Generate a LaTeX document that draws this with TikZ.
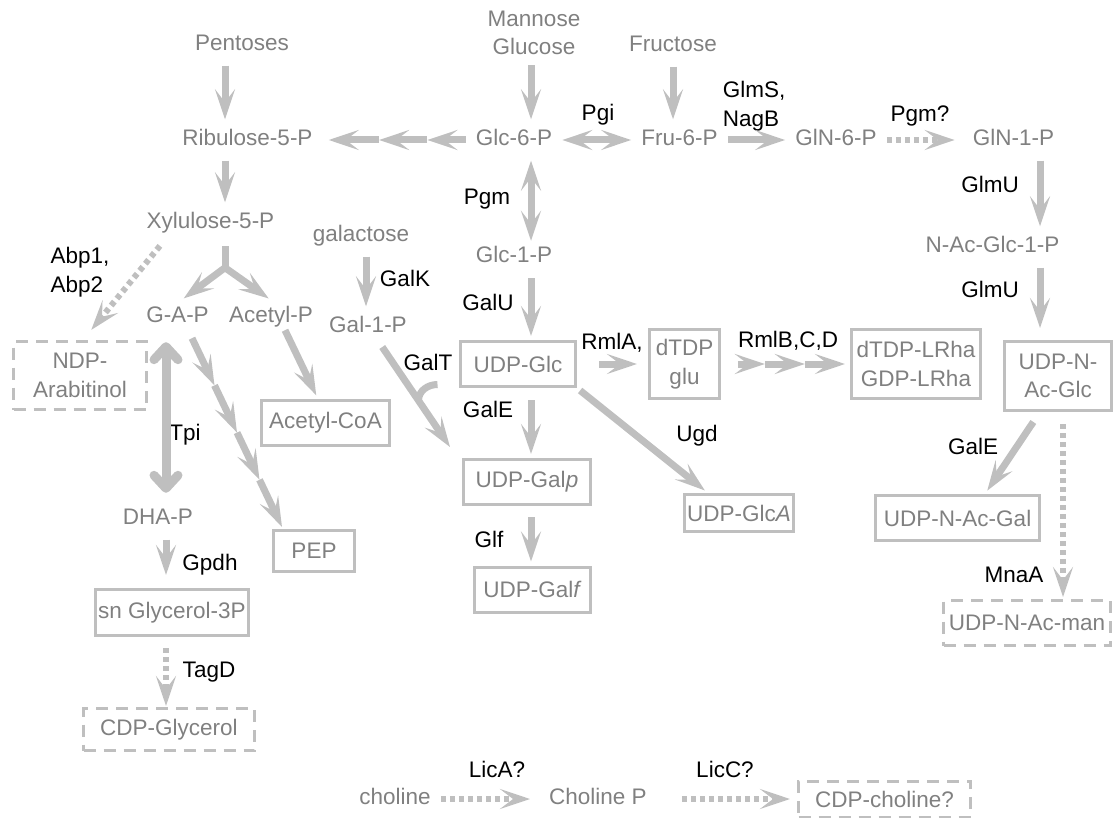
\documentclass[tikz,border=0pt]{standalone}
\usepackage{fontspec}
\setmainfont{Liberation Sans}
\usepackage{xcolor}
\definecolor{pwtext}{HTML}{808080}
\definecolor{pwline}{HTML}{BFBFBF}
\usetikzlibrary{arrows.meta, positioning}

\begin{document}
\begin{tikzpicture}[
  x=1pt, y=1pt,
  >={Stealth[length=30pt, width=20pt, inset=13pt]},
  every node/.style={font=\fontsize{22.5}{28.5}\selectfont},
  met/.style={text=pwtext, inner sep=6pt, text height=16pt, text depth=5pt},
  met2/.style={text=pwtext, inner sep=6pt, align=center},
  enz/.style={text=black, inner sep=0pt, text height=16pt, text depth=5pt},
  enz2/.style={text=black, inner sep=0pt, align=left},
  box/.style={draw=pwline, line width=3pt, text=pwtext, inner sep=2pt, align=center},
  dbox/.style={box, dash pattern=on 12pt off 8pt},
  ln/.style={color=pwline, line width=7pt},
  arr/.style={->, color=pwline, line width=7pt, shorten <=4pt, shorten >=4pt},
  seg/.style={arr, shorten <=0pt, shorten >=0pt},
  dot/.style={arr, line width=6pt, dash pattern=on 5pt off 4pt},
  tpiarr/.style={arr, line width=9pt,
    {Straight Barb[round, length=13pt, width=24pt]}-{Straight Barb[round, length=13pt, width=24pt]}}
]
  \useasboundingbox (0,0) rectangle (1116,-818);

  \node[met] (pent) at (242,-45) {Pentoses};
  \node[met2] (mangl) at (534,-33) {Mannose\\Glucose};
  \node[met] (fruc) at (673,-46) {Fructose};
  \node[met] (ribu) at (247.5,-140) {Ribulose-5-P};
  \node[met] (glc6) at (514,-140) {Glc-6-P};
  \node[met] (fru6) at (679.5,-140) {Fru-6-P};
  \node[met] (gln6) at (836,-140) {GlN-6-P};
  \node[met] (gln1) at (1013.5,-140) {GlN-1-P};
  \node[met] (xylu) at (210.5,-223) {Xylulose-5-P};
  \node[met] (gala) at (361,-236) {galactose};
  \node[met] (glc1) at (514,-257.5) {Glc-1-P};
  \node[met] (nacglc1) at (992.5,-247) {N-Ac-Glc-1-P};
  \node[met] (gap) at (177.5,-317.5) {G-A-P};
  \node[met] (acetp) at (271,-317.5) {Acetyl-P};
  \node[met] (gal1p) at (368,-327) {Gal-1-P};
  \node[met] (dhap) at (158,-519) {DHA-P};
  \node[met] (chol) at (395,-799) {choline};
  \node[met] (cholp) at (598,-799) {Choline P};

  \node[dbox, minimum width=133pt, minimum height=68pt] (ndp) at (80,-375.5) {NDP-\\Arabitinol};
  \node[box, minimum width=128pt, minimum height=45pt] (acoa) at (325.5,-423) {Acetyl-CoA};
  \node[box, minimum width=115pt, minimum height=45pt] (udpglc) at (518,-364) {UDP-Glc};
  \node[box, minimum width=70pt, minimum height=69pt] (dtdpglu) at (684.5,-364) {dTDP\\glu};
  \node[box, minimum width=129pt, minimum height=69pt] (lrha) at (916,-364) {dTDP-LRha\\GDP-LRha};
  \node[box, minimum width=107pt, minimum height=69pt] (udpnacglc) at (1058,-376) {UDP-N-\\Ac-Glc};
  \node[box, minimum width=127pt, minimum height=45pt] (udpgalp) at (527,-482) {UDP-Gal\textit{p}};
  \node[box, minimum width=109pt, minimum height=37pt] (udpglca) at (739,-513) {UDP-Glc\textit{A}};
  \node[box, minimum width=164pt, minimum height=45pt] (udpnacgal) at (957.5,-518) {UDP-N-Ac-Gal};
  \node[box, minimum width=81pt, minimum height=41pt] (pep) at (314,-551) {PEP};
  \node[box, minimum width=153pt, minimum height=46pt] (snglyc) at (172,-612.5) {sn Glycerol-3P};
  \node[box, minimum width=116pt, minimum height=45pt] (udpgalf) at (532.5,-589.5) {UDP-Gal\textit{f}};
  \node[dbox, minimum width=167pt, minimum height=45pt] (udpnacman) at (1027,-623) {UDP-N-Ac-man};
  \node[dbox, minimum width=171pt, minimum height=42pt] (cdpglyc) at (169,-729.5) {CDP-Glycerol};
  \node[dbox, minimum width=172pt, minimum height=36pt] (cdpchol) at (884.5,-799) {CDP-choline?};

  \node[enz] (pgi) at (598,-115) {Pgi};
  \node[enz2] (glms) at (754,-106) {GlmS,\\NagB};
  \node[enz] (pgmq) at (920,-116) {Pgm?};
  \node[enz] (glmu1) at (990,-187) {GlmU};
  \node[enz] (glmu2) at (990,-292) {GlmU};
  \node[enz] (pgm) at (487,-199) {Pgm};
  \node[enz2] (abp) at (80,-272) {Abp1,\\Abp2};
  \node[enz] (galk) at (405,-281) {GalK};
  \node[enz] (galu) at (488,-305) {GalU};
  \node[enz] (galt) at (428,-365) {GalT};
  \node[enz] (rmla) at (612,-344) {RmlA,};
  \node[enz] (rmlb) at (788,-342) {RmlB,C,D};
  \node[enz] (gale) at (488,-412) {GalE};
  \node[enz] (ugd) at (697,-436) {Ugd};
  \node[enz] (galenac) at (973,-449) {GalE};
  \node[enz] (tpi) at (185,-435) {Tpi};
  \node[enz] (gpdh) at (210,-565) {Gpdh};
  \node[enz] (glf) at (489,-542) {Glf};
  \node[enz] (tagd) at (209,-672) {TagD};
  \node[enz] (mnaa) at (1014,-577) {MnaA};
  \node[enz] (lica) at (497,-772) {LicA?};
  \node[enz] (licc) at (725,-772) {LicC?};

  \path (glc6.west) -- coordinate[pos=0.28] (rc1) coordinate[pos=0.6] (rc2) (ribu.east);
  \path (dtdpglu.east) -- coordinate[pos=0.13] (tc0) coordinate[pos=0.34] (tc1) coordinate[pos=0.65] (tc2) (lrha.west);
  \path ([xshift=14.5pt, yshift=-4pt]gap.south) -- coordinate[pos=0.25] (pc1) coordinate[pos=0.5] (pc2)
    coordinate[pos=0.75] (pc3) ([xshift=-32pt, yshift=2pt]pep.north);

  \draw[arr] ([xshift=-17pt]pent.south) -- ([xshift=-17pt]pent.south |- ribu.north);
  \draw[arr] ([xshift=-22.5pt]ribu.south) -- ([xshift=-22.5pt]ribu.south |- xylu.north);
  \draw[seg, shorten <=4pt] (glc6.west) -- (rc1);
  \draw[seg] (rc1) -- (rc2);
  \draw[seg, shorten >=10pt] (rc2) -- (ribu.east);
  \draw[arr, <->] (glc6.east) -- (fru6.west);
  \draw[arr] (fru6.east) -- (gln6.west);
  \draw[dot, shorten >=12pt] (gln6.east) -- (gln1.west);
  \draw[arr] ([xshift=-3pt]mangl.south) -- ([xshift=-3pt]mangl.south |- glc6.north);
  \draw[arr] (fruc.south) -- (fruc.south |- fru6.north);
  \draw[arr, <->, shorten >=0pt] ([xshift=17pt]glc6.south) -- ([xshift=17pt]glc1.north);
  \draw[arr] ([xshift=17pt]glc1.south) -- ([xshift=17pt]glc1.south |- udpglc.north);
  \draw[arr, shorten <=12pt] ([xshift=13pt]udpglc.south) -- ([xshift=13pt]udpglc.south |- udpgalp.north);
  \draw[arr, shorten <=11pt] ([xshift=4pt]udpgalp.south) -- ([xshift=4pt]udpgalp.south |- udpgalf.north);
  \draw[arr] (udpglc.south east) -- ([xshift=25pt]udpglca.north west);
  \draw[arr, shorten <=22pt, shorten >=11pt] (udpglc.east) -- (dtdpglu.west);
  \draw[seg] (tc0) -- (tc1);
  \draw[seg] (tc1) -- (tc2);
  \draw[seg, shorten >=5pt] (tc2) -- (lrha.west);
  \draw[arr] ([xshift=26.5pt]gln1.south) -- ([xshift=26.5pt]gln1.south |- nacglc1.north);
  \draw[arr, shorten >=12pt] ([xshift=47.5pt]nacglc1.south) -- ([xshift=47.5pt]nacglc1.south |- udpnacglc.north);
  \draw[arr, shorten <=12pt] ([xshift=-18pt]udpnacglc.south) -- ([xshift=27.5pt]udpnacgal.north);
  \draw[dot, shorten <=12pt, shorten >=2pt] ([xshift=5pt]udpnacglc.south) -- ([xshift=5pt]udpnacglc.south |- udpnacman.north);

  \draw[ln] ([xshift=14.5pt, yshift=-6.5pt]xylu.south) -- ++(0,-21.5) coordinate (fork);
  \draw[arr, shorten <=0pt] (fork) -- ([xshift=3pt]gap.north);
  \draw[arr, shorten <=0pt] (fork) -- ([xshift=1pt]acetp.north);
  \draw[dot, shorten <=8pt, shorten >=13pt] ([xshift=-45.5pt]xylu.south) -- ([xshift=3pt]ndp.north);
  \draw[arr] ([xshift=5pt]gala.south) -- ([xshift=5pt]gala.south |- gal1p.north);
  \draw[arr, shorten >=0pt] ([xshift=12pt]gal1p.south) -- coordinate[pos=0.55] (galtc) ([xshift=-12pt, yshift=11pt]udpgalp.north west);
  \draw[ln] (galtc) to[out=90, in=180] ++(19,16);
  \draw[arr, shorten <=0pt] ([xshift=14pt, yshift=4pt]acetp.south) -- ([xshift=-7.5pt]acoa.north);
  \draw[seg] ([xshift=14.5pt, yshift=-4pt]gap.south) -- (pc1);
  \draw[seg] (pc1) -- (pc2);
  \draw[seg] (pc2) -- (pc3);
  \draw[seg] (pc3) -- ([xshift=-32pt, yshift=2pt]pep.north);
  \draw[tpiarr, shorten <=8pt, shorten >=9.5pt] ([xshift=-11.5pt]gap.south) -- ([xshift=-11.5pt]gap.south |- dhap.north);
  \draw[arr, shorten >=13pt] ([xshift=8pt]dhap.south) -- ([xshift=8pt]dhap.south |- snglyc.north);
  \draw[dot, shorten <=11pt, shorten >=1pt] ([xshift=-6pt]snglyc.south) -- ([xshift=-6pt]snglyc.south |- cdpglyc.north);
  \draw[dot, shorten >=13pt] (chol.east) -- (cholp.west);
  \draw[dot, shorten <=29pt, shorten >=7pt] (cholp.east) -- (cdpchol.west);
\end{tikzpicture}
\end{document}
